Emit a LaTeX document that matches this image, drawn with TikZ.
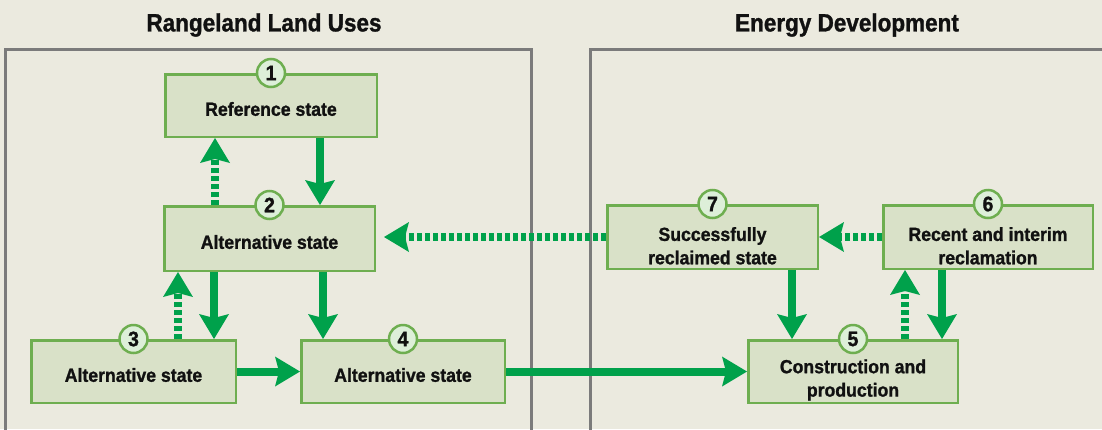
\documentclass[tikz,border=0pt]{standalone}
\usepackage{fontspec}
\setmainfont{Liberation Sans}
\newfontfamily\boxfont{Liberation Sans}[FakeStretch=0.93, BoldFeatures={FakeBold=1.2}]
\newfontfamily\titlefont{Liberation Sans}[FakeStretch=0.9, BoldFeatures={FakeBold=1.2}]
\usetikzlibrary{arrows.meta}
\definecolor{bgc}{HTML}{EBEADF}
\definecolor{boxfill}{HTML}{D9E1C8}
\definecolor{boxline}{HTML}{6EAE50}
\definecolor{circfill}{HTML}{DDEFD9}
\definecolor{arrgreen}{HTML}{00A14B}
\definecolor{panelgray}{HTML}{7B7B7B}
\definecolor{txt}{HTML}{111111}
\tikzset{
  panel/.style={draw=panelgray, line width=3pt},
  titletext/.style={font=\titlefont\bfseries\fontsize{25}{28}\selectfont, text=txt, inner sep=0pt},
  statebox/.style={draw=boxline, fill=boxfill, line width=2.5pt, rectangle, inner sep=0pt},
  boxtext/.style={font=\boxfont\bfseries\fontsize{19}{23.4}\selectfont, text=txt, align=center, inner sep=0pt},
  numcirc/.style={draw=boxline, fill=circfill, line width=2.5pt, circle, minimum size=28pt, inner sep=0pt,
    font=\boxfont\bfseries\fontsize{21}{21}\selectfont, text=txt},
  tip/.style={-{Stealth[length=25pt,width=30pt,inset=4pt,line width=0pt]}},
  solidarr/.style={draw=arrgreen, line width=8pt, tip},
  dotarr/.style={draw=arrgreen, line width=7.5pt, dash pattern=on 5.5pt off 2.5pt, tip},
}
\begin{document}
\begin{tikzpicture}[x=1pt,y=-1pt]
\useasboundingbox[fill=bgc] (0,0) rectangle (1102,429);
% panels
\draw[panel] (5,440) -- (5,49) -- (531,49) -- (531,440);
\draw[panel] (590,440) -- (590,49) -- (1110,49);
\node[titletext] (title1) at (264,25) {Rangeland Land Uses};
\node[titletext] (title2) at (847,25) {Energy Development};
% boxes
\node[statebox, minimum width=211.5pt, minimum height=62.5pt] (b1) at (271,105.5) {};
\node[statebox, minimum width=210.5pt, minimum height=64.5pt] (b2) at (269.5,238.5) {};
\node[statebox, minimum width=204.5pt, minimum height=62.5pt] (b3) at (133.5,371.5) {};
\node[statebox, minimum width=203.5pt, minimum height=62.5pt] (b4) at (403,371.5) {};
\node[statebox, minimum width=209.5pt, minimum height=62.5pt] (b5) at (853,371.5) {};
\node[statebox, minimum width=209.5pt, minimum height=63.5pt] (b6) at (988,237) {};
\node[statebox, minimum width=210.5pt, minimum height=63.5pt] (b7) at (712.5,237) {};
% texts
\node[boxtext] (t1) at (271,109) {Reference state};
\node[boxtext] (t2) at (269.5,242) {Alternative state};
\node[boxtext] (t3) at (133.5,375) {Alternative state};
\node[boxtext] (t4) at (403,375) {Alternative state};
\node[boxtext] (t5) at (853,380) {Construction and\\production};
\node[boxtext] (t6) at (988,245.8) {Recent and interim\\reclamation};
\node[boxtext] (t7) at (712.5,245.8) {Successfully\\reclaimed state};
% number circles
\node[numcirc] (n1) at (b1.north) {1};
\node[numcirc] (n2) at (b2.north) {2};
\node[numcirc] (n3) at (b3.north) {3};
\node[numcirc] (n4) at (b4.north) {4};
\node[numcirc] (n5) at (b5.north) {5};
\node[numcirc] (n6) at (b6.north) {6};
\node[numcirc] (n7) at (b7.north) {7};
% column coordinates
\coordinate (x12) at (320,0);
\coordinate (x21) at (215,0);
\coordinate (x23) at (214,0);
\coordinate (x32) at (178,0);
\coordinate (x24) at (323,0);
\coordinate (x75) at (792,0);
\coordinate (x56) at (905,0);
\coordinate (x65) at (942,0);
\coordinate (tip72) at (384,237);
% connectors
\draw[solidarr] (b1.south -| x12) -- (b2.north -| x12);
\draw[dotarr] (b2.north -| x21) -- (b1.south -| x21);
\draw[solidarr] (b2.south -| x23) -- (b3.north -| x23);
\draw[dotarr] (b3.north -| x32) -- (b2.south -| x32);
\draw[solidarr] (b2.south -| x24) -- (b4.north -| x24);
\draw[solidarr] (b3.east) -- (b4.west);
\draw[solidarr] (b4.east) -- (b5.west);
\draw[dotarr] (b7.west) -- (tip72);
\draw[dotarr] (b6.west) -- (b7.east);
\draw[solidarr] (b7.south -| x75) -- (b5.north -| x75);
\draw[dotarr] (b5.north -| x56) -- (b6.south -| x56);
\draw[solidarr] (b6.south -| x65) -- (b5.north -| x65);
\end{tikzpicture}
\end{document}
